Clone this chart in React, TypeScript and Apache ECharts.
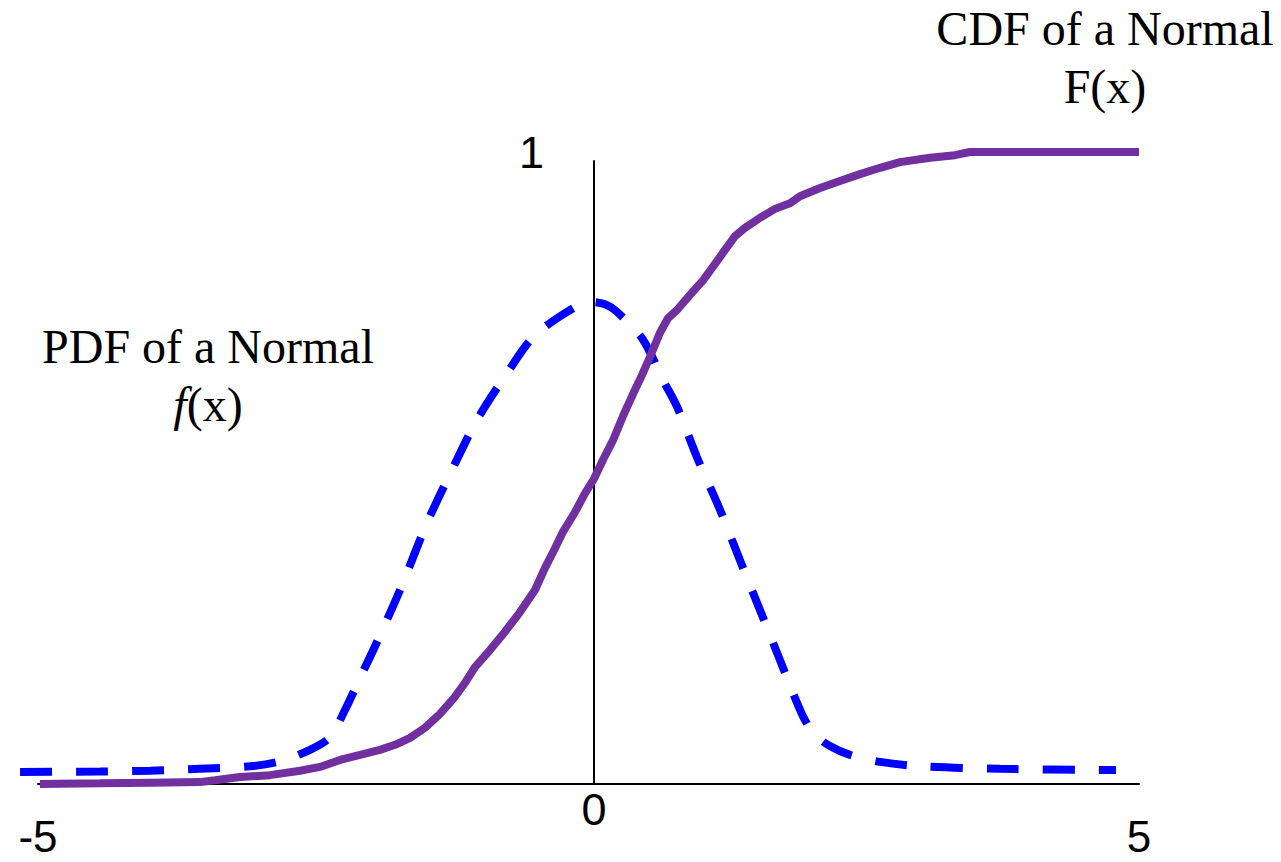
import React, { useEffect, useRef } from "react";
import * as echarts from "echarts";

// PDF of a Normal (blue dashed)
const pdfX = [
  -5.163, -4.437, -3.983, -3.529, -3.074, -2.802, -2.53, -2.348, -2.212, -2.075,
  -1.939, -1.712, -1.467, -1.24, -1.013, -0.74, -0.504, -0.195, 0.014, 0.15,
  0.259, 0.495, 0.677, 0.804, 0.985, 1.194, 1.376, 1.558, 1.739, 1.876,
  1.966, 2.057, 2.193, 2.375, 2.648, 3.011, 3.738, 4.791,
];
const pdfY = [
  0.019, 0.0198, 0.021, 0.024, 0.028, 0.036, 0.054, 0.074, 0.117, 0.168,
  0.218, 0.307, 0.413, 0.497, 0.576, 0.65, 0.707, 0.747, 0.763, 0.759,
  0.747, 0.703, 0.639, 0.597, 0.517, 0.434, 0.354, 0.275, 0.196, 0.136,
  0.101, 0.078, 0.06, 0.046, 0.035, 0.028, 0.024, 0.022,
];

// CDF of a Normal (purple solid)
const cdfX = [
  -4.982, -4.437, -3.983, -3.529, -3.392, -3.165, -2.893, -2.62, -2.439, -2.257,
  -2.075, -1.894, -1.757, -1.621, -1.485, -1.349, -1.213, -1.122, -1.031, -0.895,
  -0.758, -0.622, -0.486, -0.395, -0.304, -0.232, -0.123, -0.032, 0.05, 0.132,
  0.223, 0.313, 0.404, 0.486, 0.559, 0.649, 0.722, 0.804, 0.922, 1.04,
  1.149, 1.24, 1.331, 1.421, 1.558, 1.694, 1.83, 1.921, 2.103, 2.284,
  2.466, 2.648, 2.829, 3.102, 3.329, 3.465, 3.738, 5.0,
];
const cdfY = [
  0, 0.001, 0.002, 0.003, 0.006, 0.011, 0.014, 0.021, 0.027, 0.038,
  0.046, 0.054, 0.062, 0.073, 0.089, 0.111, 0.138, 0.16, 0.185, 0.212,
  0.241, 0.272, 0.307, 0.342, 0.373, 0.399, 0.43, 0.46, 0.483, 0.513,
  0.544, 0.582, 0.617, 0.647, 0.676, 0.714, 0.737, 0.75, 0.774, 0.797,
  0.823, 0.845, 0.867, 0.88, 0.896, 0.91, 0.919, 0.93, 0.943, 0.954,
  0.965, 0.975, 0.984, 0.991, 0.995, 1.0, 1.0, 1.0,
];

const xEndTicks = [-5, 5];
const xOriginTick = [0];
const yTicks = [1];
const pdfLabel = ["PDF of a Normal", "f", "(x)"];
const cdfLabel = ["CDF of a Normal", "F(x)"];

const SANS = "'Liberation Sans', Arial, sans-serif";
const SERIF = "'Liberation Serif', 'Times New Roman', serif";

export default function App() {
  const ref = useRef<HTMLDivElement>(null);

  useEffect(() => {
    const chart = echarts.init(ref.current as HTMLDivElement, null, { renderer: "svg" });
    const option: any = {
      animation: false,
      backgroundColor: "#ffffff",
      grid: [
        { left: 38, right: 142, top: 152, bottom: 78 },
        // the vertical axis through the origin
        { left: 594, width: 1, top: 161, bottom: 78 },
        // same scale as grid 0, widened to the left so the PDF tail fits inside
        { left: 16, right: 142, top: 152, bottom: 78 },
      ],
      xAxis: [
        {
          type: "value",
          gridIndex: 0,
          min: xEndTicks[0],
          max: xEndTicks[1],
          interval: 5,
          axisLine: { show: true, onZero: true, lineStyle: { color: "#000", width: 2 } },
          axisTick: { show: false },
          splitLine: { show: false },
          axisLabel: {
            margin: 32,
            lineHeight: 40,
            fontSize: 44,
            fontFamily: SANS,
            color: "#000",
            showMinLabel: true,
            showMaxLabel: true,
            formatter: (v: number) => (xEndTicks.includes(v) ? String(v) : ""),
          },
        },
        {
          type: "value",
          gridIndex: 1,
          min: 0,
          max: 1,
          interval: 1,
          axisLine: { show: false },
          axisTick: { show: false },
          splitLine: { show: false },
          axisLabel: {
            margin: 3,
            lineHeight: 44,
            fontSize: 45,
            fontFamily: SANS,
            color: "#000",
            formatter: (v: number) => (xOriginTick.includes(v) ? String(v) : ""),
          },
        },
        { type: "value", gridIndex: 2, min: -5.2, max: 5, show: false },
      ],
      yAxis: [
        {
          type: "value",
          gridIndex: 0,
          min: 0,
          max: 1,
          interval: 1,
          offset: -556,
          axisLine: { show: false },
          axisTick: { show: false },
          splitLine: { show: false },
          axisLabel: {
            margin: 50,
            fontSize: 45,
            fontFamily: SANS,
            color: "#000",
            formatter: (v: number) => (yTicks.includes(v) ? String(v) : ""),
          },
        },
        {
          type: "value",
          gridIndex: 1,
          min: 0,
          max: 1,
          axisLine: { show: true, onZero: false, lineStyle: { color: "#000", width: 2 } },
          axisTick: { show: false },
          axisLabel: { show: false },
          splitLine: { show: false },
        },
        { type: "value", gridIndex: 2, min: 0, max: 1, show: false },
      ],
      graphic: [
        {
          type: "text",
          x: 208,
          y: 375,
          style: {
            text: `${pdfLabel[0]}\n{i|${pdfLabel[1]}}${pdfLabel[2]}`,
            fontSize: 48,
            fontFamily: SERIF,
            fill: "#000",
            align: "center",
            verticalAlign: "middle",
            lineHeight: 58,
            rich: {
              i: { fontSize: 48, fontFamily: SERIF, fontStyle: "italic", lineHeight: 58, fill: "#000" },
            },
          },
        },
        {
          type: "text",
          x: 1105,
          y: 57,
          style: {
            text: `${cdfLabel[0]}\n${cdfLabel[1]}`,
            fontSize: 48,
            fontFamily: SERIF,
            fill: "#000",
            align: "center",
            verticalAlign: "middle",
            lineHeight: 58,
          },
        },
      ],
      series: [
        {
          name: "PDF",
          type: "line",
          xAxisIndex: 2,
          yAxisIndex: 2,
          data: pdfX.map((x, i) => [x, pdfY[i]]),
          symbol: "none",
          showSymbol: false,
          smooth: 0.3,
          clip: false,
          lineStyle: { color: "#0000FF", width: 8, type: [32, 24], cap: "butt" },
          z: 2,
        },
        {
          name: "CDF",
          type: "line",
          xAxisIndex: 0,
          yAxisIndex: 0,
          data: cdfX.map((x, i) => [x, cdfY[i]]),
          symbol: "none",
          showSymbol: false,
          clip: false,
          lineStyle: { color: "#7030A0", width: 8 },
          z: 3,
        },
      ],
    };
    chart.setOption(option);
    return () => {
      chart.dispose();
    };
  }, []);

  return (
    <div
      ref={ref}
      style={{ position: "fixed", left: 0, top: 0, width: 1281, height: 862, background: "#fff" }}
    />
  );
}
